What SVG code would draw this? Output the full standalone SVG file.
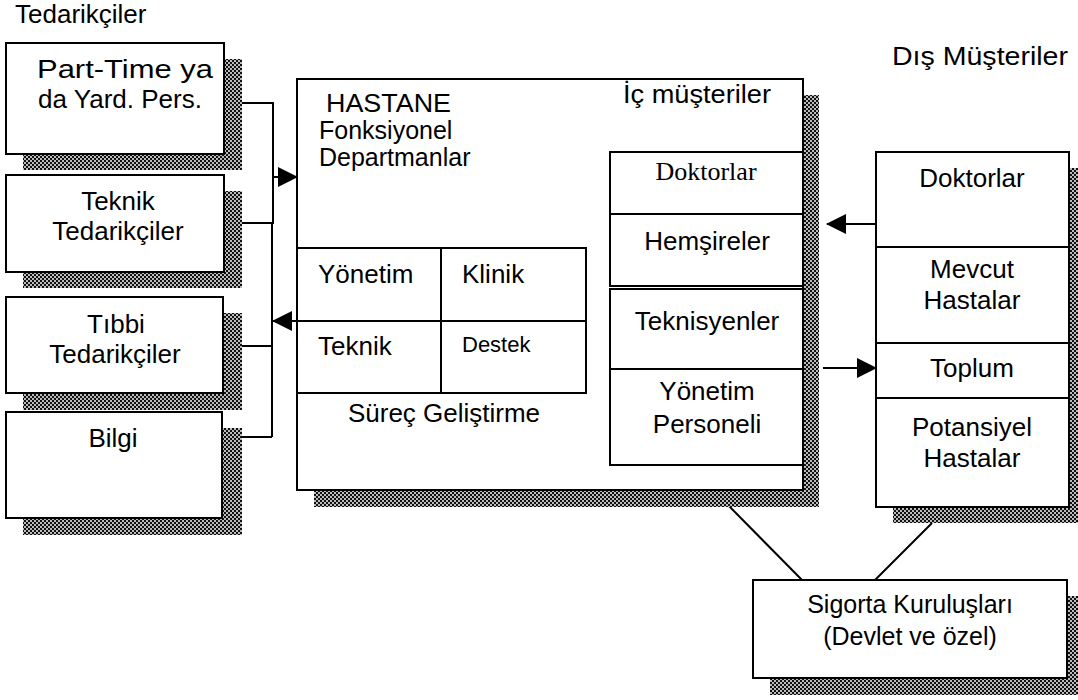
<svg xmlns="http://www.w3.org/2000/svg" width="1078" height="700" viewBox="0 0 1078 700">
<style>
.box{fill:#fff;stroke:#000;stroke-width:2}
.sh{fill:url(#hatch);stroke:none}
.ln{fill:none;stroke:#000;stroke-width:2}
text{font-family:"Liberation Sans",Arial,sans-serif;font-size:26px;fill:#000}
.c{text-anchor:middle}
.serif{font-family:"Liberation Serif","Times New Roman",serif}
.h{font-size:25px}
</style>
<defs>
<pattern id="hatch" width="4" height="4" patternUnits="userSpaceOnUse">
<rect width="4" height="4" fill="#bbb"/>
<rect width="2" height="2" fill="#111"/>
<rect x="2" y="2" width="2" height="2" fill="#111"/>
</pattern>
<marker id="ah" markerWidth="20" markerHeight="20" refX="19" refY="10" orient="auto" markerUnits="userSpaceOnUse">
<path d="M0,0 L20,10 L0,20 Z" fill="#000"/>
</marker>
</defs>
<rect width="1078" height="700" fill="#fff"/>

<text x="15" y="23">Tedarikçiler</text>
<text x="892" y="65" textLength="176" lengthAdjust="spacingAndGlyphs">Dış Müşteriler</text>

<g id="connectors">
<polyline class="ln" points="242,103 273,103 273,223 242,223"/>
<line class="ln" x1="272" y1="223" x2="272" y2="437"/>
<line class="ln" x1="242" y1="346" x2="272" y2="346"/>
<line class="ln" x1="242" y1="437" x2="272" y2="437"/>
<line class="ln" x1="273" y1="177" x2="297" y2="177" marker-end="url(#ah)"/>
<line class="ln" x1="297" y1="321" x2="273" y2="321" marker-end="url(#ah)"/>
<line class="ln" x1="876" y1="224" x2="827" y2="224" marker-end="url(#ah)"/>
<line class="ln" x1="823" y1="368" x2="876" y2="368" marker-end="url(#ah)"/>
<line class="ln" x1="728" y1="505" x2="802" y2="580"/>
<line class="ln" x1="932" y1="523" x2="875" y2="580"/>
</g>

<g id="parttime">
<rect class="sh" x="23" y="59" width="219" height="111"/>
<rect class="box" x="6" y="43" width="218" height="111"/>
<text x="37" y="78" textLength="176" lengthAdjust="spacingAndGlyphs">Part-Time ya</text>
<text class="c" x="120" y="108">da Yard. Pers.</text>
</g>
<g id="teknik-ted">
<rect class="sh" x="23" y="191" width="219" height="97"/>
<rect class="box" x="6" y="175" width="218" height="97"/>
<text class="c" x="118" y="210">Teknik</text>
<text class="c" x="118" y="240">Tedarikçiler</text>
</g>
<g id="tibbi-ted">
<rect class="sh" x="23" y="313" width="219" height="97"/>
<rect class="box" x="6" y="297" width="217" height="96"/>
<text class="c" x="116" y="333">Tıbbi</text>
<text class="c" x="115" y="363">Tedarikçiler</text>
</g>
<g id="bilgi">
<rect class="sh" x="23" y="428" width="219" height="107"/>
<rect class="box" x="6" y="412" width="216" height="106"/>
<text class="c" x="113" y="447">Bilgi</text>
</g>

<g id="hastane">
<rect class="sh" x="314" y="95" width="505" height="412"/>
<rect class="box" x="297" y="79" width="506" height="411"/>
<text class="h" x="326" y="112" textLength="125" lengthAdjust="spacingAndGlyphs">HASTANE</text>
<text class="h" x="319" y="139">Fonksiyonel</text>
<text class="h" x="319" y="166">Departmanlar</text>
<text x="623" y="103" textLength="148" lengthAdjust="spacingAndGlyphs">İç müşteriler</text>
</g>
<g id="fonksiyonel-grid">
<rect class="box" x="297" y="248" width="289" height="145"/>
<line class="ln" x1="441" y1="248" x2="441" y2="393"/>
<line class="ln" x1="297" y1="321" x2="586" y2="321"/>
<text x="318" y="283">Yönetim</text>
<text x="462" y="283">Klinik</text>
<text x="318" y="355">Teknik</text>
<text x="462" y="352" style="font-size:22px">Destek</text>
<text class="c" x="444" y="422">Süreç Geliştirme</text>
</g>
<g id="ic-musteriler-1">
<rect class="box" x="610" y="152" width="193" height="134"/>
<line class="ln" x1="610" y1="214" x2="803" y2="214"/>
<text class="c serif" x="706" y="180">Doktorlar</text>
<text class="c" x="707" y="250">Hemşireler</text>
</g>
<g id="ic-musteriler-2">
<rect class="box" x="610" y="289" width="193" height="176"/>
<line class="ln" x1="610" y1="369" x2="803" y2="369"/>
<text class="c" x="707" y="330">Teknisyenler</text>
<text class="c" x="707" y="400">Yönetim</text>
<text class="c" x="707" y="433">Personeli</text>
</g>

<g id="dis-musteriler">
<rect class="sh" x="893" y="168" width="193" height="355"/>
<rect class="box" x="876" y="152" width="193" height="355"/>
<line class="ln" x1="876" y1="247" x2="1069" y2="247"/>
<line class="ln" x1="876" y1="343" x2="1069" y2="343"/>
<line class="ln" x1="876" y1="398" x2="1069" y2="398"/>
<text class="c" x="972" y="187">Doktorlar</text>
<text class="c" x="972" y="278">Mevcut</text>
<text class="c" x="972" y="309">Hastalar</text>
<text class="c" x="972" y="377">Toplum</text>
<text class="c" x="972" y="436">Potansiyel</text>
<text class="c" x="972" y="467">Hastalar</text>
</g>

<g id="sigorta">
<rect class="sh" x="770" y="596" width="314" height="99"/>
<rect class="box" x="753" y="580" width="314" height="98"/>
<text class="c" x="910" y="613" style="font-size:25px">Sigorta Kuruluşları</text>
<text class="c" x="910" y="645" style="font-size:25px">(Devlet ve özel)</text>
</g>
</svg>
